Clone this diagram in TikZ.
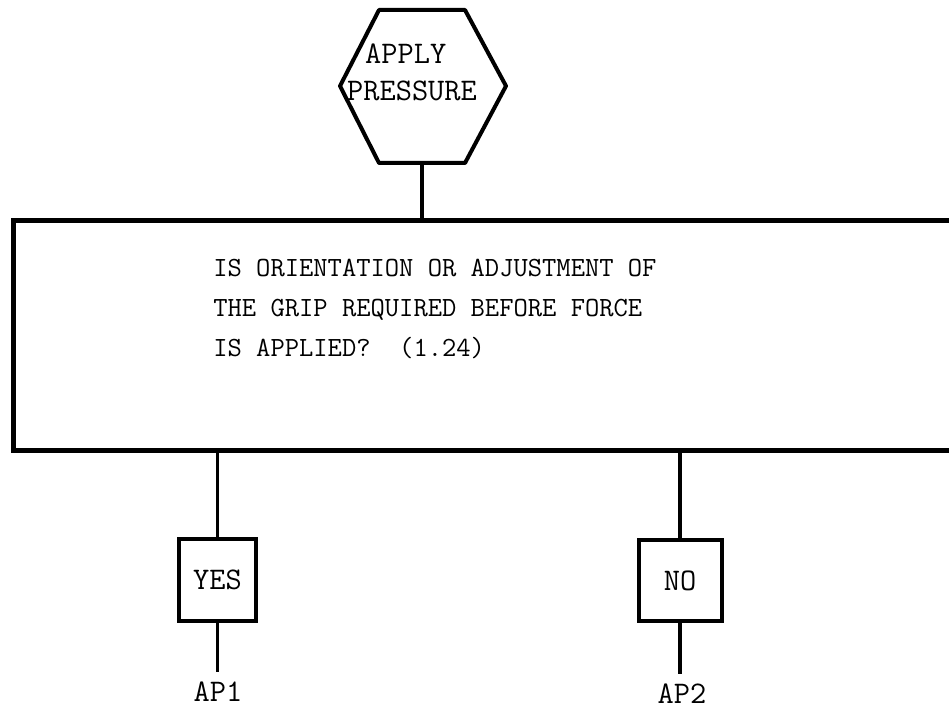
\documentclass[tikz,border=0pt]{standalone}
\usepackage{tikz}
\usetikzlibrary{positioning,calc}

\begin{document}
\begin{tikzpicture}[
  x=0.02cm, y=-0.02cm,
  font=\ttfamily,
  ln/.style={draw=black,line width=0.07cm},
  hexa/.style={draw=black,line width=0.08cm,line join=round},
  qb/.style={draw=black,line width=0.1cm,minimum width=19.13cm,minimum height=4.6cm,inner sep=0pt},
  qt/.style={font=\fontsize{15.8}{22.8}\selectfont\ttfamily,align=left,inner sep=0pt},
  ans/.style={draw=black,line width=0.08cm,inner sep=0pt,
              font=\fontsize{17.9}{21}\selectfont\ttfamily},
  lbl/.style={font=\fontsize{17.9}{21}\selectfont\ttfamily,inner sep=1pt},
]
\useasboundingbox (0,0) rectangle (949,709);

% Hexagon on top
\draw[hexa] (340,86) -- (379,10) -- (465,10) -- (506,86) -- (465,163) -- (379,163) -- cycle;
\coordinate (hb) at (422,163);
\node[lbl,align=left] (ap) at (412,72) {\hspace*{0.36cm}APPLY\\PRESSURE};

% Question box, running off the right edge
\node[qb] (q) at (491.75,335.5) {};
\node[qt,anchor=west] (qtx) at (213,309)
  {IS ORIENTATION OR ADJUSTMENT OF\\THE GRIP REQUIRED BEFORE FORCE\\IS APPLIED?\ \ (1.24)};
\draw[ln] (hb) -- (hb |- q.north);

% Answers
\node[ans,minimum width=1.54cm,minimum height=1.64cm] (yes) at (217.5,580) {YES};
\node[ans,minimum width=1.66cm,minimum height=1.62cm] (no) at (680,580.5) {NO};
\draw[ln] (yes.north |- q.south) -- (yes.north);
\draw[ln] (no.north |- q.south) -- (no.north);

% Exits
\node[lbl] (ap1) at (218,692) {AP1};
\node[lbl] (ap2) at (682,694) {AP2};
\draw[ln] (yes.south) -- ([yshift=0.16cm]yes.south |- ap1.north);
\draw[ln] (no.south) -- ([yshift=0.16cm]no.south |- ap2.north);
\end{tikzpicture}
\end{document}
